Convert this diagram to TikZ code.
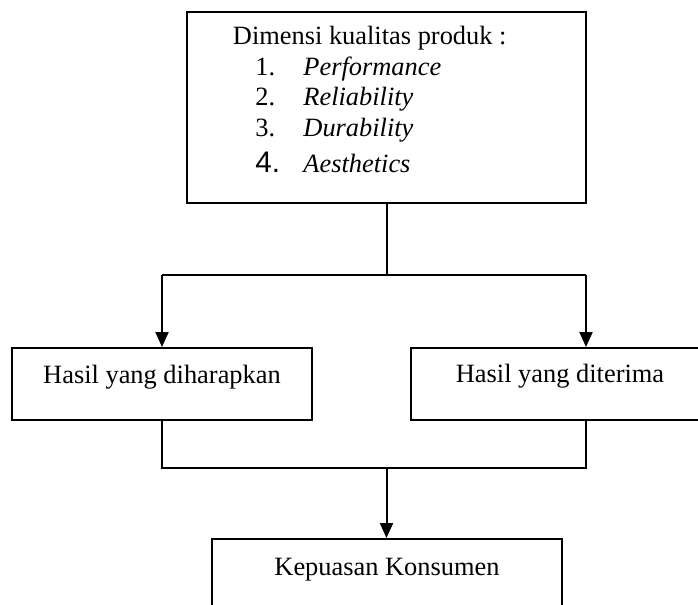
\documentclass[tikz,border=0pt]{standalone}
\usepackage{fontspec}
\setmainfont{Liberation Serif}
\newfontfamily\numfont{Liberation Sans}
\usetikzlibrary{arrows.meta}
\begin{document}
\begin{tikzpicture}[x=0.4545pt,y=-0.4545pt,
  boxnode/.style={draw, line width=0.9pt, inner sep=0pt},
  txt/.style={anchor=base west, inner sep=0pt, font=\fontsize{12}{14}\selectfont},
  ctxt/.style={anchor=base, inner sep=0pt, font=\fontsize{12}{14}\selectfont},
  link/.style={line width=0.9pt},
  arr/.style={link, -{Triangle[length=6.8pt,width=5.9pt]}}]
\useasboundingbox (0,0) rectangle (698,605);
\clip (0,0) rectangle (698,605);
% boxes
\node[boxnode, minimum width=399*0.4545pt, minimum height=191*0.4545pt] (top) at (386.5,107.5) {};
\node[boxnode, minimum width=300*0.4545pt, minimum height=72*0.4545pt] (left) at (162,384) {};
\node[boxnode, minimum width=298*0.4545pt, minimum height=72*0.4545pt] (right) at (560,384) {};
\node[boxnode, minimum width=350*0.4545pt, minimum height=80*0.4545pt] (bottom) at (387,579) {};
% texts
\node[txt] (t0) at (232.5,45) {Dimensi kualitas produk :};
\node[txt] (n1) at (255,76) {1.};
\node[txt] (n2) at (255,106) {2.};
\node[txt] (n3) at (255,137) {3.};
\node[txt, font=\numfont\fontsize{13.5}{15}\selectfont] (n4) at (255,173) {4.};
\node[txt] (w1) at (303,76) {\itshape Performance};
\node[txt] (w2) at (303,106) {\itshape Reliability};
\node[txt] (w3) at (303,137) {\itshape Durability};
\node[txt] (w4) at (303,173) {\itshape Aesthetics};
\node[ctxt] (tl) at (162,383) {Hasil yang diharapkan};
\node[ctxt] (tr) at (560,382) {Hasil yang diterima};
\node[ctxt] (tb) at (387,575) {Kepuasan Konsumen};
% junctions
\coordinate (j1) at (386.5,275);
\coordinate (jl) at (162,275);
\coordinate (jr) at (586,275);
\coordinate (kl) at (162,468);
\coordinate (kc) at (386.5,468);
\coordinate (kr) at (586,468);
% connectors
\draw[link] (top.south) -- (j1);
\draw[link] (jl) -- (jr);
\draw[arr] (jl) -- (left.north);
\draw[arr] (jr) -- (jr |- right.north);
\draw[link] (left.south) -- (kl) -- (kr) -- (kr |- right.south);
\draw[arr] (kc) -- (kc |- bottom.north);
\end{tikzpicture}
\end{document}
